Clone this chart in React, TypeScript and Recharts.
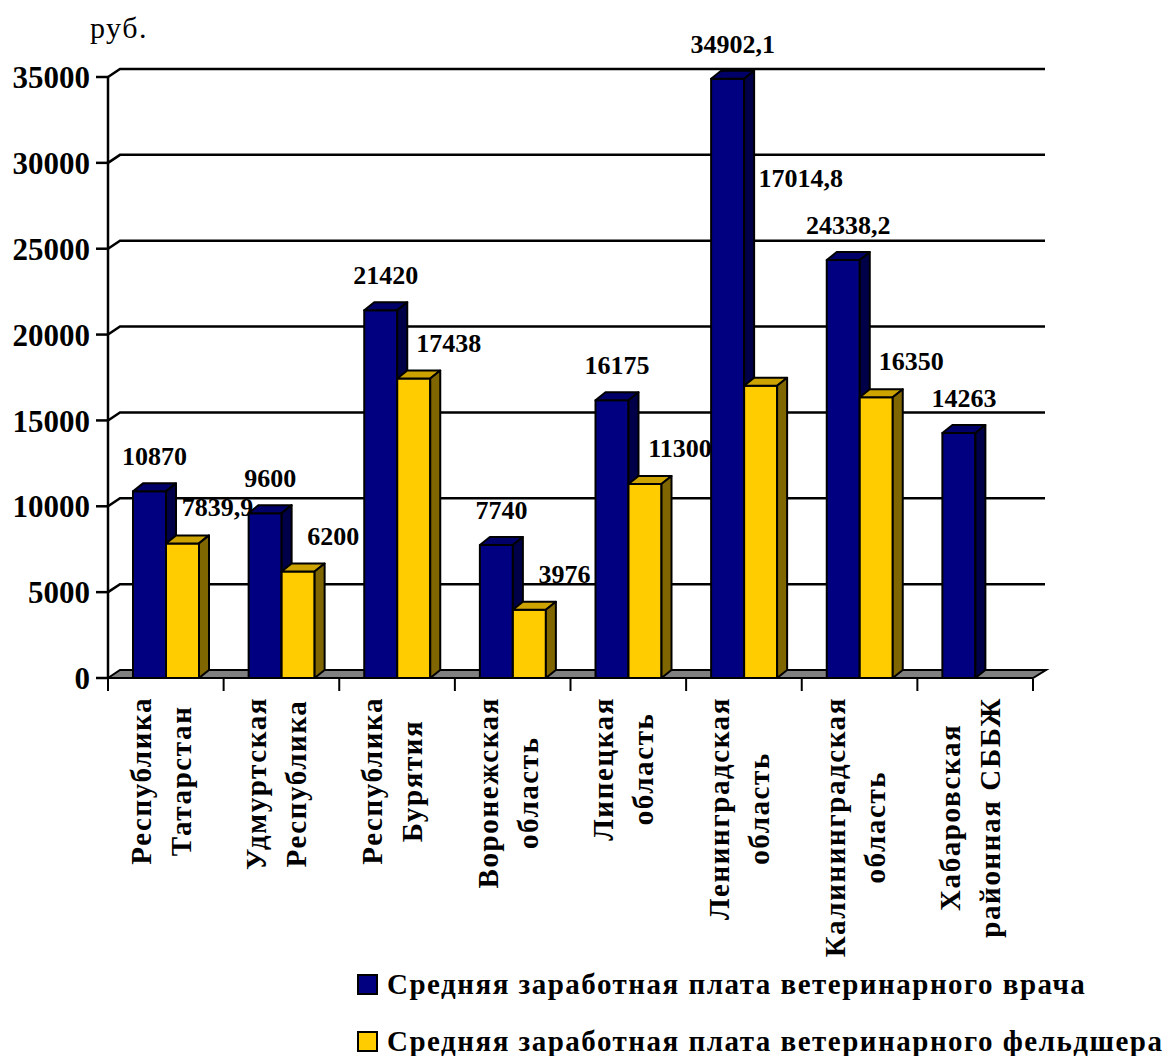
import { Bar, BarChart, CartesianGrid, LabelList, XAxis, YAxis } from 'recharts';

const regions = [
  'Республика\nТатарстан',
  'Удмуртская\nРеспублика',
  'Республика\nБурятия',
  'Воронежская\nобласть',
  'Липецкая\nобласть',
  'Ленинградская\nобласть',
  'Калининградская\nобласть',
  'Хабаровская\nрайонная СББЖ',
];
const vetDoctor = [10870, 9600, 21420, 7740, 16175, 34902.1, 24338.2, 14263];
const vetFeldsher = [7839.9, 6200, 17438, 3976, 11300, 17014.8, 16350, null];
const yTicks = [0, 5000, 10000, 15000, 20000, 25000, 30000, 35000];
const seriesNames = [
  'Средняя заработная плата ветеринарного врача',
  'Средняя заработная плата ветеринарного фельдшера',
];

const data = regions.map((region, i) => ({
  region,
  doctor: vetDoctor[i],
  feldsher: vetFeldsher[i],
}));

const W = 1170;
const H = 1056;
const MARGIN = { top: 77, right: 137, bottom: 78, left: 0 };
const Y_AXIS_W = 108;
const X_AXIS_H = 300;
const PLOT_LEFT = MARGIN.left + Y_AXIS_W;
const PLOT_W = W - MARGIN.right - PLOT_LEFT;
const PLOT_BOTTOM = H - MARGIN.bottom - X_AXIS_H;
const FONT = '"Liberation Serif", "Times New Roman", serif';
const CAT_SIZE = 29;
const CAT_SPACING = 1.6;

const NAVY = { front: '#000080', top: '#000068', side: '#000048' };
const YELLOW = { front: '#FFCC00', top: '#CCA300', side: '#806600' };

// the one label that was moved by hand in the original
const LABEL_LIFT: Record<string, number> = { 'Ленинградская\nобласть': 172 };

let ctx: CanvasRenderingContext2D | null = null;
function textWidth(s: string, font: string) {
  if (!ctx) ctx = document.createElement('canvas').getContext('2d');
  if (!ctx) return s.length * 15;
  ctx.font = font;
  return ctx.measureText(s).width + s.length * CAT_SPACING;
}

function gridLine(props: any) {
  const { x1, x2, y1 } = props;
  if (Math.abs(y1 - PLOT_BOTTOM) < 1) {
    return (
      <path
        key="floor"
        d={`M${x1},${y1} L${x1 + 12},${y1 - 8} L${x2 + 13},${y1 - 8} L${x2},${y1} Z`}
        fill="#808080"
        stroke="#000"
        strokeWidth={2}
      />
    );
  }
  return (
    <path
      key={`g-${y1}`}
      d={`M${x1},${y1} L${x1 + 12},${y1 - 8} L${x2 + 12},${y1 - 8}`}
      fill="none"
      stroke="#000"
      strokeWidth={2.5}
    />
  );
}

function Box3D(props: any) {
  const { x, y, width: w, height: h, colors } = props;
  if (!h || h <= 0) return null;
  const dx = 10;
  const dy = 8;
  return (
    <g stroke="#000" strokeWidth={2} strokeLinejoin="round">
      <rect x={x} y={y} width={w} height={h} fill={colors.front} />
      <path d={`M${x},${y} L${x + dx},${y - dy} L${x + w + dx},${y - dy} L${x + w},${y} Z`} fill={colors.top} />
      <path
        d={`M${x + w},${y} L${x + w + dx},${y - dy} L${x + w + dx},${y + h - dy} L${x + w},${y + h} Z`}
        fill={colors.side}
      />
    </g>
  );
}

const fmt = (v: number) => String(v).replace('.', ',');

function valueLabel(shift: number, gap: number) {
  return (props: any) => {
    const { x, y, width, value, index } = props;
    if (value == null) return null;
    const lift = shift > 20 ? LABEL_LIFT[regions[index]] ?? 0 : 0;
    return (
      <text
        x={x + width / 2 + shift + (lift ? 5 : 0)}
        y={y - gap - lift}
        textAnchor="middle"
        fontFamily={FONT}
        fontWeight="bold"
        fontSize={26}
        fill="#000"
      >
        {fmt(value)}
      </text>
    );
  };
}

function XTick(props: any) {
  const { x, index, payload } = props;
  const band = PLOT_W / regions.length;
  const lines = String(payload.value).split('\n');
  const font = `bold ${CAT_SIZE}px ${FONT}`;
  const maxW = Math.max(...lines.map((l) => textWidth(l, font)));
  const tickY = PLOT_BOTTOM + 1;
  return (
    <g>
      <line x1={x - band / 2} y1={tickY} x2={x - band / 2} y2={tickY + 12} stroke="#000" strokeWidth={2} />
      {index === regions.length - 1 && (
        <line x1={x + band / 2} y1={tickY} x2={x + band / 2} y2={tickY + 12} stroke="#000" strokeWidth={2} />
      )}
      <g transform={`translate(${x},${PLOT_BOTTOM + 19}) rotate(-90)`}>
        {lines.map((l, i) => (
          <text
            key={i}
            x={-maxW / 2}
            y={-15 + i * 40}
            textAnchor="middle"
            fontFamily={FONT}
            fontWeight="bold"
            fontSize={CAT_SIZE}
            letterSpacing={CAT_SPACING}
            fill="#000"
          >
            {l}
          </text>
        ))}
      </g>
    </g>
  );
}

function YTick(props: any) {
  const { x, y, payload } = props;
  return (
    <text
      x={x - 4}
      y={y}
      dy="0.36em"
      textAnchor="end"
      fontFamily={FONT}
      fontWeight="bold"
      fontSize={31}
      fill="#000"
    >
      {payload.value}
    </text>
  );
}

export default function App() {
  const legendColors = [NAVY.front, YELLOW.front];
  return (
    <div style={{ position: 'absolute', left: 0, top: 0, width: W, height: H, background: '#fff' }}>
      <div
        style={{
          position: 'absolute',
          left: 90,
          top: 11,
          fontFamily: FONT,
          fontSize: 30,
          letterSpacing: 1.5,
          lineHeight: '34px',
        }}
      >
        руб.
      </div>
      <BarChart width={W} height={H} data={data} margin={MARGIN} barSize={33} barGap={0}>
        <CartesianGrid vertical={false} horizontal={gridLine} />
        <XAxis
          dataKey="region"
          height={X_AXIS_H}
          interval={0}
          axisLine={false}
          tickLine={false}
          tick={<XTick />}
        />
        <YAxis
          width={Y_AXIS_W}
          domain={[0, 35000]}
          ticks={yTicks}
          interval={0}
          tickSize={12}
          axisLine={{ stroke: '#000', strokeWidth: 2.5 }}
          tickLine={{ stroke: '#000', strokeWidth: 2.5 }}
          tick={<YTick />}
        />
        <Bar
          dataKey="doctor"
          name={seriesNames[0]}
          isAnimationActive={false}
          shape={(p: any) => <Box3D {...p} colors={NAVY} />}
        >
          <LabelList dataKey="doctor" content={valueLabel(5, 26)} />
        </Bar>
        <Bar
          dataKey="feldsher"
          name={seriesNames[1]}
          isAnimationActive={false}
          shape={(p: any) => <Box3D {...p} colors={YELLOW} />}
        >
          <LabelList dataKey="feldsher" content={valueLabel(35, 27)} />
        </Bar>
      </BarChart>
      {seriesNames.map((name, i) => (
        <div
          key={name}
          style={{
            position: 'absolute',
            left: 357,
            top: 968 + i * 57,
            display: 'flex',
            alignItems: 'center',
            fontFamily: FONT,
            fontWeight: 'bold',
            fontSize: 29,
            letterSpacing: 1.5,
            lineHeight: '32px',
            whiteSpace: 'nowrap',
          }}
        >
          <span
            style={{
              display: 'inline-block',
              width: 17,
              height: 17,
              background: legendColors[i],
              border: '2px solid #000',
              marginRight: 9,
            }}
          />
          {name}
        </div>
      ))}
    </div>
  );
}
